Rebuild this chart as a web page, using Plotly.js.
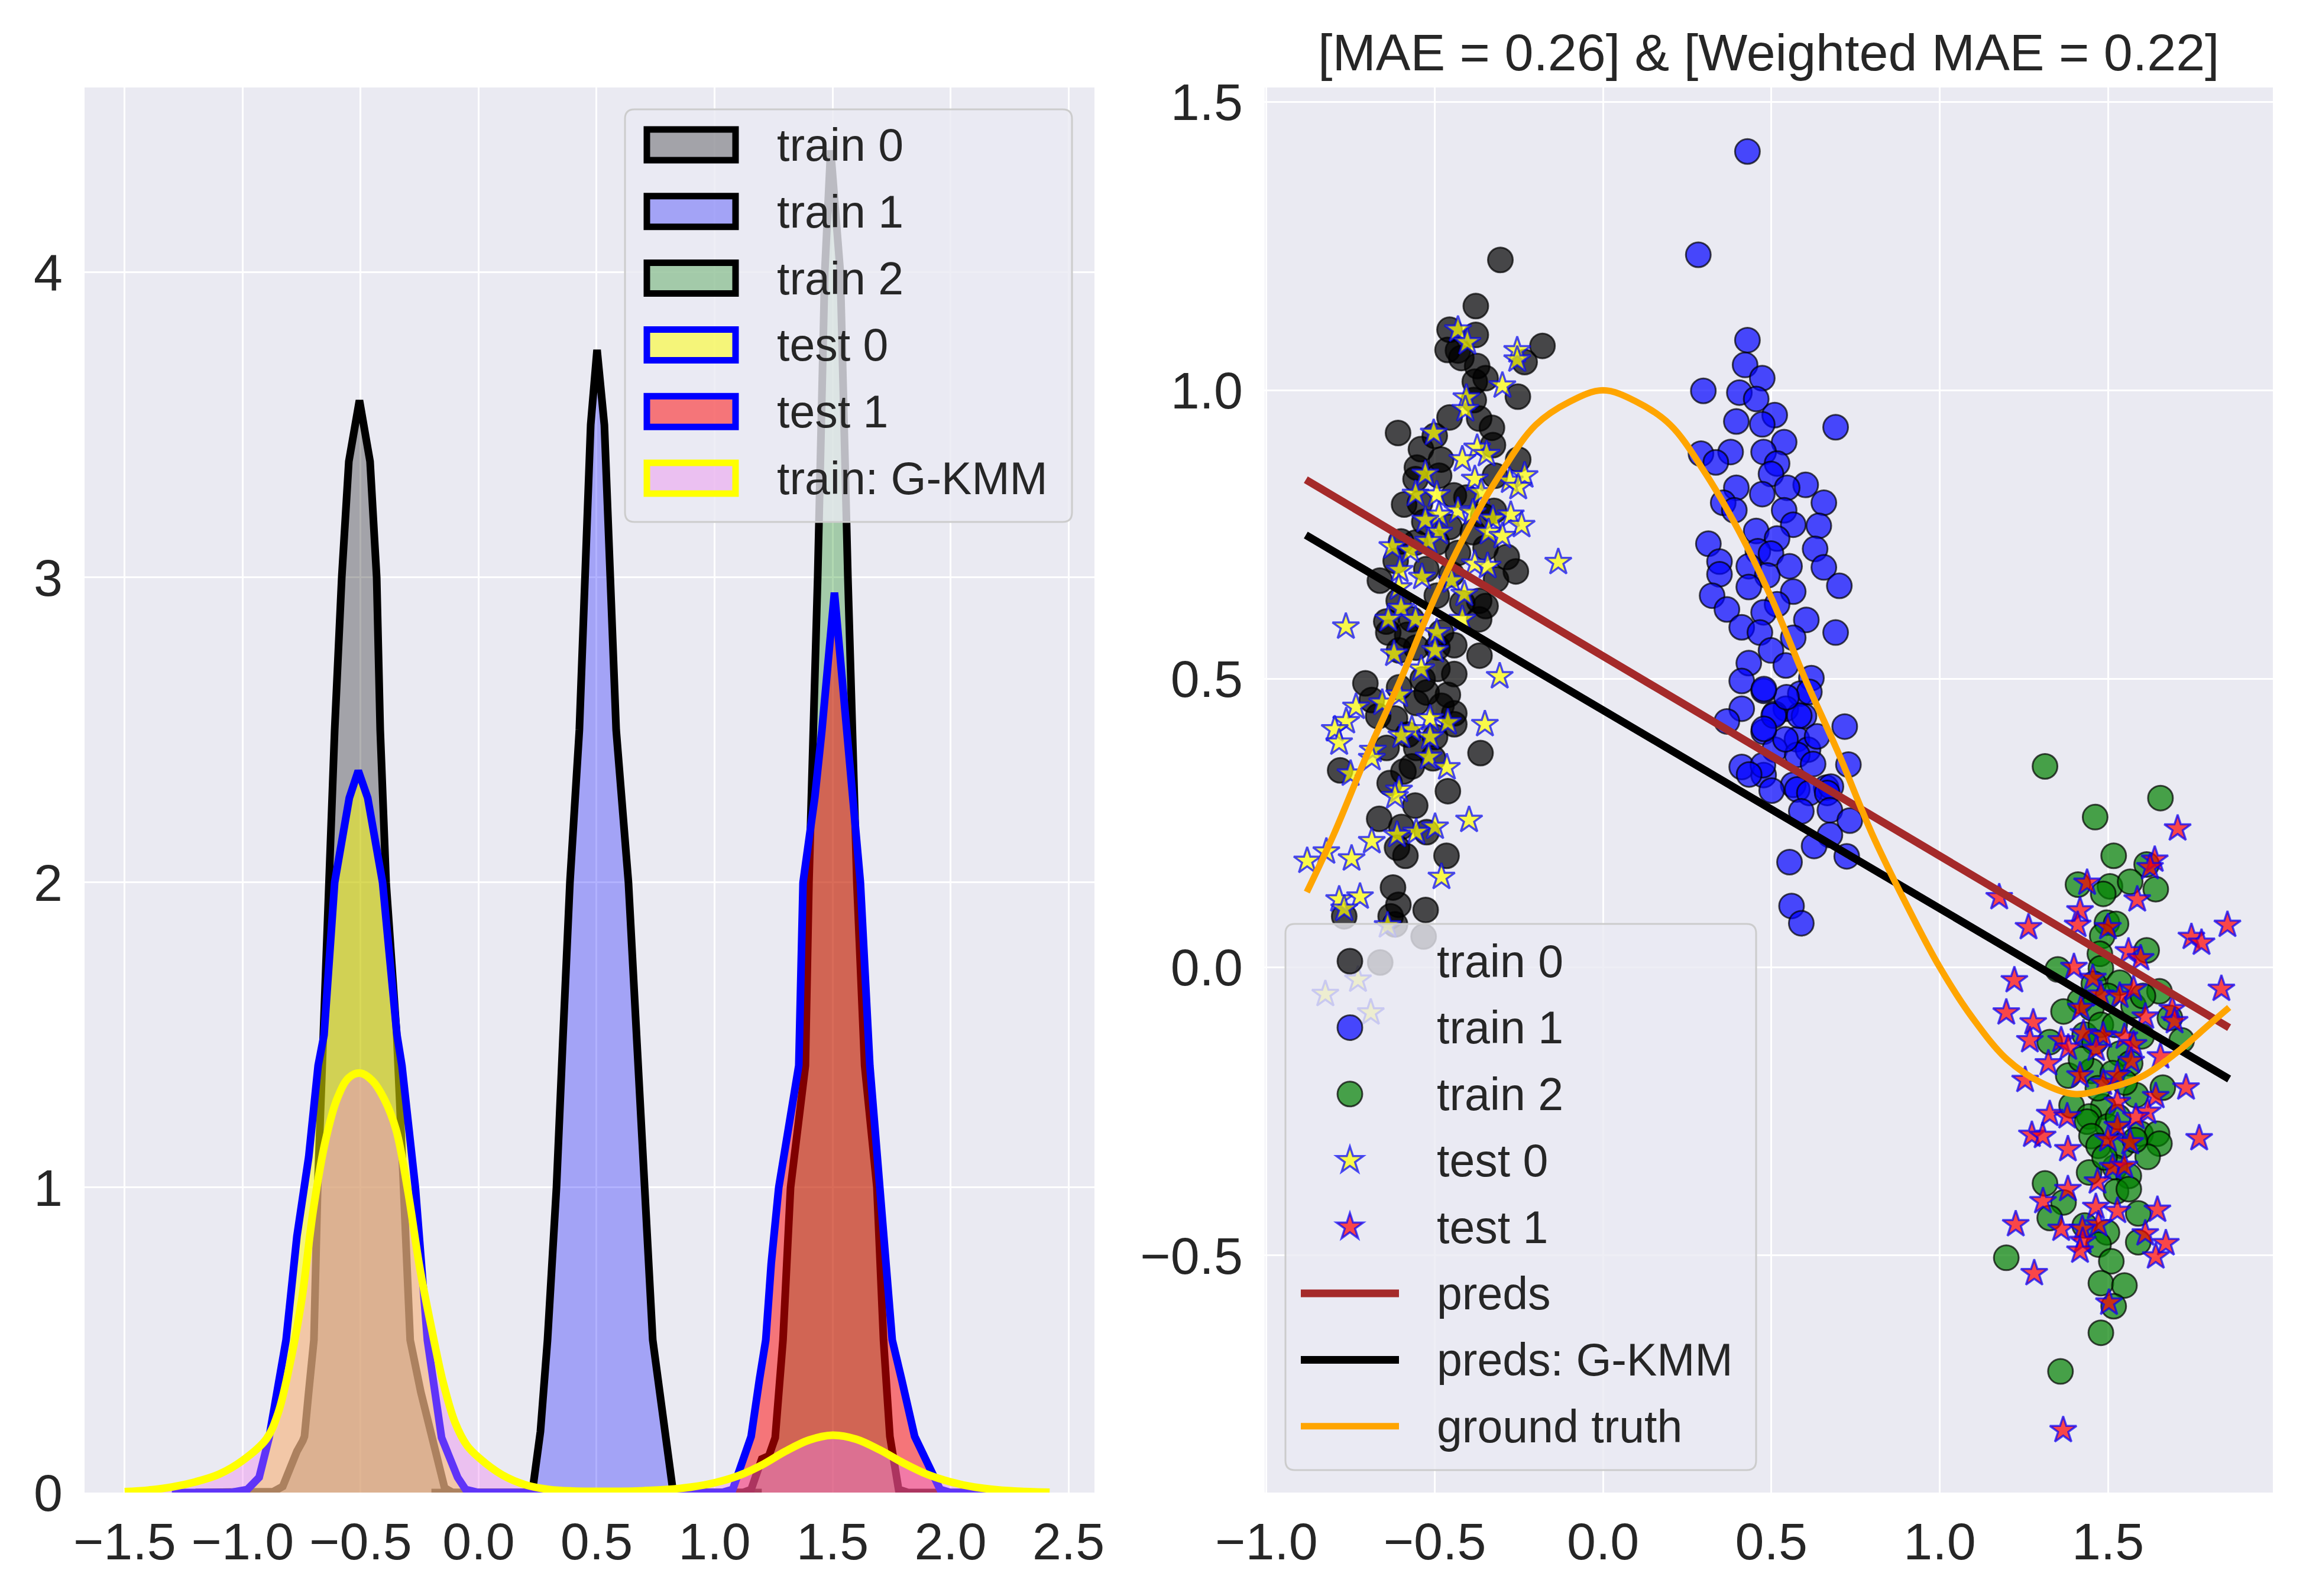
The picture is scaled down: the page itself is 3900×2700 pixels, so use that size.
<!DOCTYPE html>
<html>
<head>
<meta charset="utf-8">
<script src="https://cdn.plot.ly/plotly-3.0.1.min.js"></script>
<style>
  body { margin: 0; background: #ffffff; }
  #chart { width: 3900px; height: 2700px; }
</style>
</head>
<body>
<div id="chart"></div>
<script>
// ---- left panel: density curves ----
var kde_names = ['train 0', 'train 1', 'train 2', 'test 0', 'test 1', 'train: G-KMM'];

var kde_train0_x = [-1.20, -0.90, -0.87, -0.83, -0.80, -0.77, -0.745, -0.738, -0.72, -0.698, -0.682, -0.66, -0.635, -0.61, -0.58, -0.55, -0.505, -0.46, -0.432, -0.417, -0.392, -0.347, -0.318, -0.29, -0.245, -0.20, -0.167, -0.144, -0.11, 0.30];
var kde_train0_y = [0, 0, 0.003, 0.02, 0.08, 0.135, 0.17, 0.184, 0.33, 0.5, 1.0, 1.5, 2.0, 2.5, 3.0, 3.38, 3.58, 3.38, 3.0, 2.5, 2.0, 1.5, 1.0, 0.5, 0.33, 0.184, 0.072, 0.015, 0, 0];

var kde_train1_x = [-0.20, 0.20, 0.229, 0.262, 0.292, 0.330, 0.358, 0.387, 0.427, 0.455, 0.475, 0.502, 0.533, 0.558, 0.583, 0.635, 0.672, 0.708, 0.738, 0.79, 0.823, 0.86, 1.20];
var kde_train1_y = [0, 0, 0.01, 0.2, 0.5, 1.0, 1.5, 2.0, 2.5, 3.0, 3.5, 3.746, 3.5, 3.0, 2.5, 2.0, 1.5, 1.0, 0.5, 0.2, 0.01, 0, 0];

var kde_train2_x = [0.90, 1.12, 1.155, 1.18, 1.20, 1.23, 1.257, 1.29, 1.322, 1.385, 1.40, 1.437, 1.467, 1.492, 1.533, 1.565, 1.603, 1.636, 1.688, 1.716, 1.743, 1.78, 1.82, 2.10];
var kde_train2_y = [0, 0, 0.01, 0.07, 0.11, 0.12, 0.18, 0.5, 1.0, 1.4, 2.0, 3.0, 4.0, 4.40, 4.0, 3.0, 2.0, 1.4, 1.0, 0.5, 0.184, 0.01, 0, 0];

var kde_test0_x = [-1.30, -1.05, -0.98, -0.93, -0.888, -0.816, -0.77, -0.72, -0.68, -0.655, -0.61, -0.548, -0.51, -0.47, -0.407, -0.346, -0.325, -0.268, -0.217, -0.157, -0.089, -0.055, 0.0, 0.30];
var kde_test0_y = [0, 0, 0.01, 0.05, 0.18, 0.5, 0.84, 1.1, 1.4, 1.5, 2.0, 2.277, 2.366, 2.277, 2.0, 1.5, 1.4, 1.0, 0.5, 0.18, 0.05, 0.01, 0, 0];

var kde_test1_x = [0.80, 1.03, 1.077, 1.155, 1.19, 1.217, 1.24, 1.272, 1.357, 1.375, 1.425, 1.455, 1.508, 1.563, 1.588, 1.618, 1.658, 1.703, 1.73, 1.753, 1.793, 1.848, 1.956, 2.0, 2.40];
var kde_test1_y = [0, 0, 0.01, 0.184, 0.37, 0.5, 0.75, 1.0, 1.4, 2.0, 2.28, 2.5, 2.95, 2.5, 2.28, 2.0, 1.4, 1.0, 0.75, 0.5, 0.37, 0.184, 0.01, 0, 0];

var kde_gkmm_x = [-1.50, -1.40, -1.30, -1.20, -1.10, -1.00, -0.90, -0.85, -0.80, -0.75, -0.70, -0.65, -0.60, -0.55, -0.50, -0.45, -0.40, -0.35, -0.30, -0.25, -0.20, -0.15, -0.10, -0.05, 0.00, 0.10, 0.20, 0.30, 0.40, 0.50, 0.60, 0.70, 0.80, 0.90, 1.00, 1.10, 1.20, 1.30, 1.40, 1.50, 1.60, 1.70, 1.80, 1.90, 2.00, 2.10, 2.20, 2.30, 2.42];
var kde_gkmm_y = [0.003, 0.008, 0.018, 0.035, 0.060, 0.105, 0.175, 0.26, 0.42, 0.63, 0.93, 1.15, 1.29, 1.36, 1.375, 1.35, 1.29, 1.19, 0.99, 0.74, 0.54, 0.36, 0.23, 0.155, 0.115, 0.058, 0.025, 0.01, 0.005, 0.004, 0.004, 0.006, 0.010, 0.018, 0.032, 0.055, 0.09, 0.135, 0.172, 0.188, 0.175, 0.14, 0.097, 0.06, 0.035, 0.018, 0.009, 0.004, 0.001];

// ---- right panel: samples, predictions, ground truth ----
var train0_x = [-0.305, -0.378, -0.456, -0.378, -0.462, -0.431, -0.180, -0.233, -0.374, -0.421, -0.349, -0.381, -0.253, -0.384, -0.456, -0.368, -0.330, -0.609, -0.500, -0.541, -0.481, -0.327, -0.252, -0.553, -0.557, -0.487, -0.321, -0.591, -0.544, -0.443, -0.406, -0.356, -0.324, -0.531, -0.456, -0.387, -0.349, -0.286, -0.259, -0.600, -0.616, -0.663, -0.557, -0.494, -0.431, -0.318, -0.525, -0.450, -0.607, -0.368, -0.494, -0.418, -0.349, -0.644, -0.569, -0.368, -0.638, -0.582, -0.481,
  -0.606, -0.555, -0.492, -0.442, -0.367, -0.492, -0.442, -0.536, -0.706, -0.606, -0.524, -0.461, -0.687, -0.555, -0.480, -0.442, -0.668, -0.618, -0.442, -0.580, -0.499, -0.643, -0.555, -0.364, -0.505, -0.781, -0.568, -0.593, -0.634, -0.461, -0.558, -0.665, -0.599, -0.524, -0.612, -0.587, -0.465, -0.624, -0.608, -0.527, -0.769, -0.631, -0.618, -0.533, -0.662];
var train0_y = [1.226, 1.146, 1.105, 1.096, 1.070, 1.069, 1.077, 1.049, 1.042, 1.056, 1.021, 1.015, 0.989, 0.983, 0.953, 0.951, 0.935, 0.926, 0.921, 0.898, 0.880, 0.905, 0.880, 0.866, 0.846, 0.852, 0.852, 0.802, 0.804, 0.818, 0.814, 0.782, 0.791, 0.772, 0.763, 0.754, 0.727, 0.711, 0.686, 0.738, 0.704, 0.670, 0.736, 0.736, 0.718, 0.672, 0.690, 0.681, 0.635, 0.635, 0.644, 0.631, 0.626, 0.599, 0.603, 0.603, 0.580, 0.576, 0.580,
  0.549, 0.554, 0.554, 0.558, 0.540, 0.517, 0.508, 0.499, 0.492, 0.485, 0.476, 0.472, 0.463, 0.458, 0.453, 0.440, 0.435, 0.431, 0.421, 0.403, 0.399, 0.380, 0.380, 0.371, 0.362, 0.341, 0.348, 0.339, 0.319, 0.305, 0.280, 0.257, 0.243, 0.234, 0.207, 0.193, 0.193, 0.138, 0.108, 0.099, 0.088, 0.088, 0.074, 0.053, 0.008];

var train1_x = [0.429, 0.283, 0.429, 0.422, 0.473, 0.298, 0.405, 0.455, 0.510, 0.396, 0.473, 0.691, 0.538, 0.291, 0.379, 0.335, 0.477, 0.517, 0.499, 0.602, 0.396, 0.547, 0.473, 0.656, 0.357, 0.390, 0.538, 0.565, 0.641, 0.455, 0.313, 0.517, 0.630, 0.460, 0.346, 0.499, 0.554, 0.433, 0.656, 0.346, 0.488, 0.702, 0.324, 0.433, 0.565, 0.517, 0.604, 0.368, 0.477, 0.412, 0.691, 0.466, 0.565, 0.499, 0.433, 0.543, 0.619, 0.412, 0.477, 0.586, 0.543, 0.412, 0.510, 0.597, 0.718, 0.368, 0.477, 0.576, 0.609, 0.510, 0.729, 0.412, 0.477, 0.565, 0.663,
  0.475, 0.434, 0.501, 0.577, 0.613, 0.677, 0.666, 0.589, 0.674, 0.733, 0.674, 0.627, 0.724, 0.554, 0.560, 0.589, 0.577, 0.624, 0.542, 0.583, 0.636, 0.507, 0.478, 0.613, 0.545, 0.478];
var train1_y = [1.414, 1.235, 1.087, 1.044, 1.021, 0.999, 0.996, 0.985, 0.957, 0.946, 0.941, 0.936, 0.910, 0.890, 0.893, 0.875, 0.893, 0.873, 0.855, 0.836, 0.831, 0.831, 0.820, 0.805, 0.805, 0.792, 0.792, 0.767, 0.765, 0.756, 0.734, 0.743, 0.725, 0.721, 0.703, 0.717, 0.695, 0.695, 0.693, 0.681, 0.679, 0.661, 0.644, 0.659, 0.651, 0.629, 0.602, 0.620, 0.615, 0.589, 0.580, 0.580, 0.571, 0.549, 0.527, 0.523, 0.501, 0.496, 0.479, 0.474, 0.448, 0.448, 0.439, 0.435, 0.417, 0.426, 0.408, 0.395, 0.377, 0.377, 0.351, 0.347, 0.333, 0.316, 0.311,
  0.350, 0.334, 0.306, 0.308, 0.302, 0.313, 0.302, 0.270, 0.272, 0.254, 0.229, 0.210, 0.192, 0.182, 0.106, 0.076, 0.368, 0.352, 0.395, 0.436, 0.400, 0.436, 0.413, 0.477, 0.468, 0.482];

var train2_x = [1.313, 1.656, 1.462, 1.517, 1.615, 1.411, 1.506, 1.566, 1.642, 1.486, 1.497, 1.524, 1.483, 1.615, 1.476, 1.351, 1.479, 1.458, 1.535, 1.653, 1.417, 1.368, 1.451, 1.576, 1.604, 1.684, 1.719, 1.327, 1.431, 1.479, 1.535, 1.382, 1.451, 1.514, 1.566, 1.663, 1.583, 1.392, 1.486, 1.444,
  1.438, 1.500, 1.451, 1.597, 1.646, 1.653, 1.472, 1.542, 1.618, 1.444, 1.521, 1.562, 1.313, 1.524, 1.562, 1.368, 1.327, 1.590, 1.431, 1.497, 1.472, 1.590, 1.198, 1.510, 1.479, 1.549, 1.517, 1.479, 1.359,
  1.500, 1.460, 1.520, 1.550, 1.420, 1.600, 1.470, 1.530, 1.580, 1.490];
var train2_y = [0.348, 0.293, 0.260, 0.193, 0.178, 0.143, 0.140, 0.148, 0.135, 0.127, 0.077, 0.075, 0.054, 0.029, 0.023, -0.004, -0.002, -0.029, -0.027, -0.042, -0.059, -0.077, -0.071, -0.067, -0.050, -0.088, -0.127, -0.130, -0.117, -0.100, -0.150, -0.188, -0.180, -0.184, -0.167, -0.209, -0.222, -0.240, -0.242, -0.259,
  -0.268, -0.276, -0.293, -0.289, -0.289, -0.306, -0.310, -0.310, -0.329, -0.356, -0.347, -0.362, -0.375, -0.389, -0.385, -0.408, -0.435, -0.427, -0.448, -0.460, -0.481, -0.477, -0.504, -0.510, -0.548, -0.552, -0.588, -0.634, -0.701,
  -0.050, -0.130, -0.100, -0.200, -0.160, -0.120, -0.210, -0.260, -0.300, -0.330];

var test0_x = [-0.431, -0.403, -0.255, -0.255, -0.299, -0.406, -0.409, -0.503, -0.374, -0.346, -0.418, -0.528, -0.381, -0.362, -0.277, -0.233, -0.252, -0.557, -0.494, -0.431, -0.487, -0.528, -0.387, -0.327, -0.274, -0.242, -0.487, -0.340, -0.299, -0.519, -0.626, -0.572, -0.133, -0.381, -0.343, -0.604, -0.538, -0.450, -0.412, -0.607, -0.600, -0.557, -0.638, -0.764, -0.418, -0.494,
  -0.621, -0.499, -0.540, -0.307, -0.606, -0.656, -0.734, -0.763, -0.797, -0.784, -0.514, -0.461, -0.568, -0.599, -0.514, -0.351, -0.684, -0.687, -0.518, -0.464, -0.750, -0.606, -0.618, -0.499, -0.555, -0.612, -0.687, -0.398, -0.822, -0.879, -0.747, -0.480, -0.784, -0.722, -0.769, -0.640, -0.728, -0.825, -0.690];
var test0_y = [1.105, 1.083, 1.069, 1.053, 1.008, 0.987, 0.967, 0.926, 0.900, 0.889, 0.880, 0.855, 0.846, 0.823, 0.843, 0.852, 0.832, 0.820, 0.819, 0.791, 0.784, 0.775, 0.788, 0.777, 0.784, 0.766, 0.754, 0.754, 0.747, 0.738, 0.729, 0.722, 0.702, 0.699, 0.695, 0.688, 0.676, 0.670, 0.647, 0.658, 0.622, 0.603, 0.603, 0.590, 0.603, 0.580,
  0.543, 0.549, 0.517, 0.504, 0.472, 0.458, 0.451, 0.426, 0.412, 0.389, 0.431, 0.424, 0.412, 0.401, 0.399, 0.421, 0.376, 0.362, 0.364, 0.346, 0.335, 0.307, 0.296, 0.243, 0.234, 0.229, 0.218, 0.255, 0.200, 0.184, 0.188, 0.156, 0.117, 0.122, 0.101, 0.072, -0.022, -0.047, -0.079];

var test1_x = [1.707, 1.177, 1.639, 1.625, 1.438, 1.587, 1.417, 1.410, 1.500, 1.264, 1.855, 1.748, 1.778, 1.561, 1.597, 1.399, 1.455, 1.222, 1.837, 1.479, 1.535, 1.576, 1.198, 1.420, 1.611, 1.691, 1.698, 1.278, 1.268, 1.361, 1.427, 1.486, 1.549, 1.576, 1.382, 1.465, 1.656, 1.323, 1.569, 1.254, 1.417, 1.486, 1.528, 1.732, 1.642, 1.528, 1.618, 1.327, 1.379,
  1.583, 1.274, 1.306, 1.528, 1.500, 1.566, 1.381, 1.771, 1.514, 1.549, 1.469, 1.381, 1.307, 1.464, 1.528, 1.647, 1.226, 1.472, 1.361, 1.424, 1.611, 1.425, 1.672, 1.417, 1.642, 1.281, 1.503, 1.367];
var test1_y = [0.240, 0.121, 0.186, 0.173, 0.146, 0.117, 0.098, 0.073, 0.069, 0.069, 0.073, 0.052, 0.042, 0.027, 0.015, 0.000, -0.019, -0.023, -0.038, -0.048, -0.050, -0.038, -0.079, -0.071, -0.086, -0.073, -0.094, -0.096, -0.127, -0.127, -0.115, -0.119, -0.121, -0.134, -0.140, -0.142, -0.155, -0.167, -0.163, -0.196, -0.188, -0.201, -0.188, -0.209, -0.224, -0.234, -0.251, -0.255, -0.259,
  -0.260, -0.291, -0.293, -0.276, -0.299, -0.304, -0.316, -0.297, -0.347, -0.345, -0.372, -0.385, -0.406, -0.416, -0.423, -0.421, -0.446, -0.446, -0.454, -0.454, -0.462, -0.475, -0.479, -0.492, -0.502, -0.531, -0.582, -0.803];

var preds_x = [-0.883, 1.860];
var preds_y = [0.845, -0.105];
var preds_gkmm_y = [0.749, -0.194];

var truth_x = [-0.88, -0.80, -0.70, -0.60, -0.50, -0.40, -0.30, -0.20, -0.10, 0.00, 0.10, 0.20, 0.30, 0.40, 0.50, 0.60, 0.70, 0.80, 0.90, 1.00, 1.10, 1.20, 1.30, 1.40, 1.50, 1.60, 1.70, 1.80, 1.86];
var truth_y = [0.13, 0.23, 0.37, 0.50, 0.64, 0.76, 0.86, 0.94, 0.98, 1.00, 0.98, 0.94, 0.86, 0.76, 0.64, 0.50, 0.37, 0.23, 0.11, 0.00, -0.09, -0.16, -0.20, -0.22, -0.21, -0.19, -0.15, -0.10, -0.07];

var scatter_names = ['train 0', 'train 1', 'train 2', 'test 0', 'test 1'];
var line_names = ['preds', 'preds: G-KMM', 'ground truth'];
var title_text = '[MAE = 0.26] & [Weighted MAE = 0.22]';

// ---- styles ----
var FONT = 'Liberation Sans, Arial, sans-serif';
var TXT = '#262626';
var FS_TICK = 88, FS_LEG = 77;
var kde_fill = ['rgba(0,0,0,0.3)', 'rgba(0,0,255,0.3)', 'rgba(0,128,0,0.3)', 'rgba(255,255,0,0.5)', 'rgba(255,0,0,0.5)', 'rgba(238,130,238,0.4)'];
var kde_line = ['#000000', '#000000', '#000000', '#0000ff', '#0000ff', '#ffff00'];
var pt_fill = ['rgba(0,0,0,0.7)', 'rgba(0,0,255,0.7)', 'rgba(0,128,0,0.7)', 'rgba(255,255,0,0.7)', 'rgba(255,0,0,0.7)'];
var pt_edge = ['rgba(0,0,0,0.7)', 'rgba(0,0,0,0.7)', 'rgba(0,0,0,0.7)', 'rgba(0,0,255,0.7)', 'rgba(0,0,255,0.7)'];
var ln_color = ['#a52a2a', '#000000', '#ffa500'];
var ln_width = [13, 13, 11];
var CIRCLE = 42, STAR = 34;

var W = 3900, H = 2700;
function px(v) { return v / W; }
function py(v) { return 1 - v / H; }

var traces = [];
var kdeSets = [
  [kde_train0_x, kde_train0_y], [kde_train1_x, kde_train1_y], [kde_train2_x, kde_train2_y],
  [kde_test0_x, kde_test0_y], [kde_test1_x, kde_test1_y], [kde_gkmm_x, kde_gkmm_y]
];
kdeSets.forEach(function(s, i) {
  traces.push({
    x: s[0], y: s[1], type: 'scatter', mode: 'lines',
    fill: 'tozeroy', fillcolor: kde_fill[i],
    line: {color: kde_line[i], width: 13, shape: i === 5 ? 'spline' : 'linear'},
    name: kde_names[i], showlegend: false, hoverinfo: 'skip',
    xaxis: 'x', yaxis: 'y'
  });
});

var scatterSets = [[train0_x, train0_y], [train1_x, train1_y], [train2_x, train2_y], [test0_x, test0_y], [test1_x, test1_y]];
scatterSets.forEach(function(s, i) {
  var star = i >= 3;
  traces.push({
    x: s[0], y: s[1], type: 'scatter', mode: 'markers', name: scatter_names[i], showlegend: false,
    marker: {symbol: star ? 'star' : 'circle', size: star ? STAR : CIRCLE,
      color: pt_fill[i], line: {color: pt_edge[i], width: star ? 3.5 : 3}},
    xaxis: 'x2', yaxis: 'y2'
  });
});
var lineSets = [[preds_x, preds_y], [preds_x, preds_gkmm_y], [truth_x, truth_y]];
lineSets.forEach(function(s, i) {
  traces.push({x: s[0], y: s[1], type: 'scatter', mode: 'lines', name: line_names[i], showlegend: false,
    line: {color: ln_color[i], width: ln_width[i], shape: i === 2 ? 'spline' : 'linear'},
    xaxis: 'x2', yaxis: 'y2'});
});

// ---- legends drawn as shapes (matplotlib-style large glyphs) ----
var shapes = [], annotations = [];
function legendBox(l, r, t, b) {
  // rounded frame, corner radius in pixels converted to paper units per axis
  var rx = 16 / W, ry = 16 / H;
  var x0 = px(l), x1 = px(r), y0 = py(b), y1 = py(t);
  var p = 'M' + (x0 + rx) + ',' + y0 + ' L' + (x1 - rx) + ',' + y0 +
    ' Q' + x1 + ',' + y0 + ' ' + x1 + ',' + (y0 + ry) + ' L' + x1 + ',' + (y1 - ry) +
    ' Q' + x1 + ',' + y1 + ' ' + (x1 - rx) + ',' + y1 + ' L' + (x0 + rx) + ',' + y1 +
    ' Q' + x0 + ',' + y1 + ' ' + x0 + ',' + (y1 - ry) + ' L' + x0 + ',' + (y0 + ry) +
    ' Q' + x0 + ',' + y0 + ' ' + (x0 + rx) + ',' + y0 + ' Z';
  shapes.push({type: 'path', xref: 'paper', yref: 'paper', layer: 'above', path: p,
    fillcolor: 'rgba(234,234,242,0.8)', line: {color: '#cccccc', width: 3}});
}
function legendText(x, y, t) {
  annotations.push({xref: 'paper', yref: 'paper', x: px(x), y: py(y),
    xanchor: 'left', yanchor: 'middle', showarrow: false, text: t,
    font: {family: FONT, size: FS_LEG, color: TXT}});
}

// left: filled patches
var lg = {left: 1057, right: 1813, top: 185, bottom: 883, patchL: 1094, patchR: 1244, textL: 1312, row0: 245, rowH: 112.8};
legendBox(lg.left, lg.right, lg.top, lg.bottom);
kde_names.forEach(function(n, i) {
  var yc = lg.row0 + i * lg.rowH;
  shapes.push({type: 'rect', xref: 'paper', yref: 'paper', layer: 'above',
    x0: px(lg.patchL), x1: px(lg.patchR), y0: py(yc + 26), y1: py(yc - 26),
    fillcolor: kde_fill[i], line: {color: kde_line[i], width: 11}});
  legendText(lg.textL, yc, n);
});

// right: markers and lines
var rg = {left: 2174, right: 2970, top: 1563, bottom: 2487, cx: 2283, lineL: 2200, lineR: 2366, textL: 2428, row0: 1626, rowH: 112.4};
legendBox(rg.left, rg.right, rg.top, rg.bottom);
function starPath(R) {
  var pts = [];
  for (var k = 0; k < 10; k++) {
    var rr = (k % 2 === 0) ? R : R * 0.382;
    var a = Math.PI / 2 + k * Math.PI / 5;
    pts.push((rr * Math.cos(a)).toFixed(2) + ',' + (rr * Math.sin(a)).toFixed(2));
  }
  return 'M' + pts.join('L') + 'Z';
}
scatter_names.forEach(function(n, i) {
  var yc = rg.row0 + i * rg.rowH;
  var base = {xref: 'paper', yref: 'paper', layer: 'above', xsizemode: 'pixel', ysizemode: 'pixel',
    xanchor: px(rg.cx), yanchor: py(yc), fillcolor: pt_fill[i],
    line: {color: pt_edge[i], width: i < 3 ? 3 : 3.5}};
  if (i < 3) {
    var r = CIRCLE / 2;
    shapes.push(Object.assign({type: 'circle', x0: -r, x1: r, y0: -r, y1: r}, base));
  } else {
    shapes.push(Object.assign({type: 'path', path: starPath(STAR * 0.7)}, base));
  }
  legendText(rg.textL, yc, n);
});
line_names.forEach(function(n, i) {
  var yc = rg.row0 + (i + 5) * rg.rowH;
  shapes.push({type: 'line', xref: 'paper', yref: 'paper', layer: 'above',
    x0: px(rg.lineL), x1: px(rg.lineR), y0: py(yc), y1: py(yc),
    line: {color: ln_color[i], width: ln_width[i]}});
  legendText(rg.textL, yc, n);
});

annotations.push({xref: 'paper', yref: 'paper', x: (px(2139) + px(3844)) / 2, y: py(88),
  xanchor: 'center', yanchor: 'middle', showarrow: false, text: title_text,
  font: {family: FONT, size: FS_TICK, color: TXT}});

var axisCommon = {
  showgrid: true, gridcolor: '#ffffff', gridwidth: 3, zeroline: false, showline: false,
  ticks: '', tickfont: {family: FONT, size: FS_TICK, color: TXT}, fixedrange: true
};
function ax(extra) { return Object.assign({}, axisCommon, extra); }

var yDom = [py(2525), py(148)];
var layout = {
  width: W, height: H,
  paper_bgcolor: '#ffffff', plot_bgcolor: '#eaeaf2',
  margin: {l: 0, r: 0, t: 0, b: 0},
  font: {family: FONT, size: FS_TICK, color: TXT},
  showlegend: false,
  xaxis: ax({domain: [px(143), px(1851)], range: [-1.67, 2.61], tick0: -1.5, dtick: 0.5, tickformat: '.1f', anchor: 'y', ticklabelstandoff: 24}),
  yaxis: ax({domain: yDom, range: [0, 4.606], tick0: 0, dtick: 1, tickformat: 'd', anchor: 'x', ticklabelstandoff: 36}),
  xaxis2: ax({domain: [px(2139), px(3844)], range: [-1.005, 1.99], tick0: -1, dtick: 0.5, tickformat: '.1f', anchor: 'y2', ticklabelstandoff: 24}),
  yaxis2: ax({domain: yDom, range: [-0.911, 1.525], tick0: -0.5, dtick: 0.5, tickformat: '.1f', anchor: 'x2', ticklabelstandoff: 36}),
  shapes: shapes,
  annotations: annotations
};

Plotly.newPlot('chart', traces, layout, {displayModeBar: false, staticPlot: true});
</script>
</body>
</html>
